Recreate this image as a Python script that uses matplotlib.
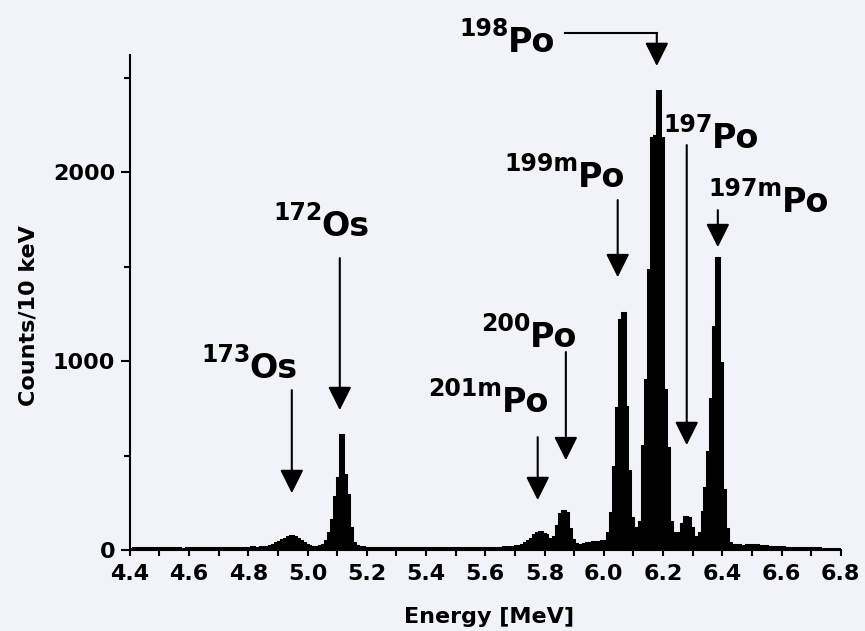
import numpy as np
import matplotlib
matplotlib.use("Agg")
import matplotlib.pyplot as plt
import matplotlib.transforms as mtransforms
from matplotlib.ticker import MultipleLocator

plt.rcParams['font.family'] = ['DejaVu Sans']
plt.rcParams['font.weight'] = 'bold'

# alpha spectrum, 10 keV bins starting at 4.40 MeV
e_start = 4.40
bin_width = 0.01
counts = [
    # 4.40
    8, 12, 6, 10, 14, 9, 11, 7, 12, 10,
    # 4.50
    9, 13, 8, 11, 7, 10, 12, 9, 8, 11,
    # 4.60
    10, 7, 12, 9, 11, 8, 10, 13, 9, 10,
    # 4.70
    11, 9, 12, 8, 10, 14, 11, 9, 12, 13,
    # 4.80
    12, 15, 11, 14, 16, 13, 18, 22, 28, 36,
    # 4.90  (173Os)
    44, 52, 60, 68, 74, 70, 62, 50, 38, 28,
    # 5.00
    22, 18, 15, 16, 20, 30, 50, 90, 160, 280,
    # 5.10  (172Os)
    380, 610, 400, 290, 120, 40, 24, 18, 15, 12,
    # 5.20
    14, 10, 12, 9, 13, 11, 10, 12, 8, 11,
    # 5.30
    10, 12, 9, 11, 13, 10, 8, 12, 10, 9,
    # 5.40
    11, 9, 12, 10, 8, 11, 13, 9, 10, 12,
    # 5.50
    10, 8, 11, 9, 12, 10, 13, 11, 9, 12,
    # 5.60
    11, 13, 10, 12, 14, 12, 15, 13, 16, 18,
    # 5.70  (201mPo)
    20, 24, 30, 38, 48, 62, 80, 92, 95, 88,
    # 5.80  (200Po)
    80, 60, 48, 70, 130, 190, 205, 195, 110, 55,
    # 5.90
    35, 28, 30, 34, 38, 40, 42, 45, 44, 48,
    # 6.00  (199mPo)
    50, 90, 195, 440, 750, 1220, 1254, 760, 420, 170,
    # 6.10  (198Po)
    115, 110, 150, 550, 900, 1480, 2180, 2190, 2430, 2180,
    # 6.20  (197Po)
    850, 540, 150, 90, 70, 90, 140, 175, 170, 120,
    # 6.30  (197mPo)
    70, 55, 90, 200, 330, 520, 800, 1180, 1545, 990,
    # 6.40
    320, 110, 40, 30, 28, 26, 24, 25, 27, 26,
    # 6.50
    28, 27, 25, 22, 20, 18, 17, 18, 16, 15,
    # 6.60
    15, 14, 13, 14, 12, 12, 11, 12, 10, 11,
    # 6.70
    10, 9, 10, 8, 9, 7, 8, 6, 7, 6,
]

# peak labels: mass number, symbol, label anchor (E, counts)
lbl_mass = ['173', '172', '201m', '200', '199m', '198', '197', '197m']
lbl_sym = ['Os', 'Os', 'Po', 'Po', 'Po', 'Po', 'Po', 'Po']
lbl_x = [4.805, 5.048, 5.656, 5.750, 5.912, 5.676, 6.365, 6.601]
lbl_y = [910, 1661, 730, 1074, 1921, 2635, 2127, 1788]

# arrows: energy, start and tip (counts)
arr_x = [4.947, 5.109, 5.777, 5.872, 6.047, 6.179, 6.280, 6.385]
arr_y0 = [847, 1545, 598, 1048, 1852, 2735, 2143, 1799]
arr_y1 = [302, 741, 265, 476, 1444, 2561, 556, 1603]

bg = '#f1f3f9'
fig = plt.figure(figsize=(8.65, 6.31), dpi=100, facecolor=bg)
ax = fig.add_axes([0.150, 0.128, 0.822, 0.785], facecolor=bg)

edges = e_start + bin_width * np.arange(len(counts) + 1)
ax.stairs(counts, edges, fill=True, color='black', lw=0)
ax.stairs(counts, edges, color='black', lw=2.2)

ax.set_xlim(4.4, 6.8)
ax.set_ylim(0, 2620)
ax.spines['top'].set_visible(False)
ax.spines['right'].set_visible(False)
for s in ['left', 'bottom']:
    ax.spines[s].set_linewidth(1.5)

ax.xaxis.set_major_locator(MultipleLocator(0.2))
ax.xaxis.set_minor_locator(MultipleLocator(0.1))
ax.yaxis.set_major_locator(MultipleLocator(1000))
ax.yaxis.set_minor_locator(MultipleLocator(500))
ax.xaxis.set_major_formatter(lambda v, p: f'{v:.1f}')
ax.tick_params(axis='x', which='both', direction='out', length=4, width=1.5,
               labelsize=16, pad=6)
ax.tick_params(axis='y', which='major', direction='out', length=6.5, width=1.5,
               labelsize=16, pad=4)
ax.tick_params(axis='y', which='minor', direction='out', length=4.5, width=1.5)

ax.set_xlabel('Energy [MeV]', fontsize=16, fontweight='bold', va='top')
ax.set_ylabel('Counts/10 keV', fontsize=16, fontweight='bold')
ax.xaxis.set_label_coords(0.506, -0.114)
ax.yaxis.set_label_coords(-0.128, 0.473)

# nuclide labels with superscript mass number
sup = mtransforms.offset_copy(ax.transData, fig=fig, x=0.5, y=11.5, units='points')
for m, s, x, y in zip(lbl_mass, lbl_sym, lbl_x, lbl_y):
    ax.text(x, y, s, fontsize=24, fontweight='bold', ha='left', va='baseline',
            clip_on=False)
    ax.text(x, y, m, transform=sup, fontsize=17, fontweight='bold',
            ha='right', va='baseline', clip_on=False)

# 198Po label is connected with a bent arrow
ax.plot([5.868, arr_x[5]], [arr_y0[5], arr_y0[5]], color='black', lw=1.5,
        clip_on=False)

for x, y0, y1 in zip(arr_x, arr_y0, arr_y1):
    ax.annotate('', xy=(x, y1), xytext=(x, y0), annotation_clip=False,
                arrowprops=dict(arrowstyle='-|>,head_length=0.8,head_width=0.4',
                                mutation_scale=18, lw=1.5, color='black',
                                shrinkA=0, shrinkB=0))

fig.savefig('out.png', dpi=100, facecolor=bg)
